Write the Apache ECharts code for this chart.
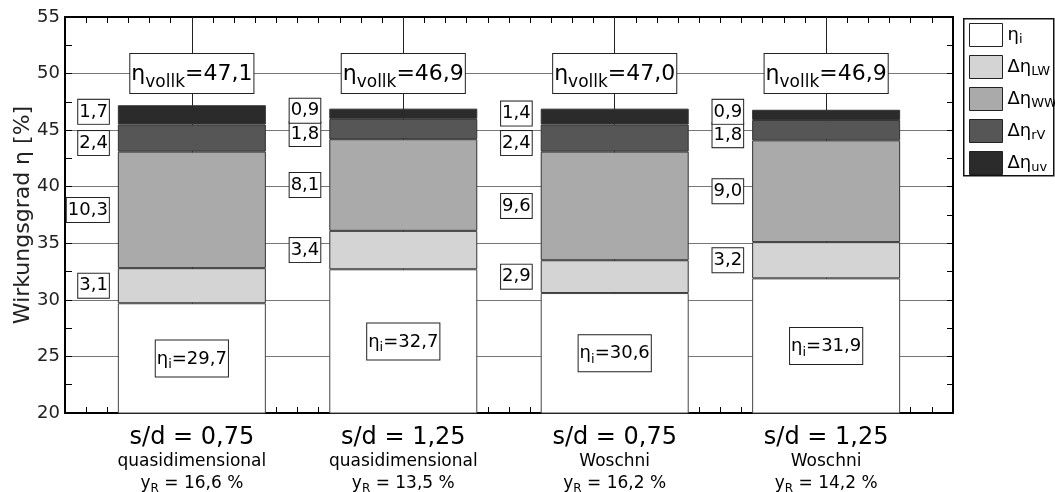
<!DOCTYPE html>
<html>
<head>
<meta charset="utf-8">
<script src="https://cdn.jsdelivr.net/npm/echarts@6/dist/echarts.min.js"></script>
<style>
html, body { margin: 0; padding: 0; background: #fff; }
#chart { width: 1055px; height: 492px; }
</style>
</head>
<body>
<div id="chart"></div>
<script>
// categories
const spacings = ["0,75", "1,25", "0,75", "1,25"]
const models = ["quasidimensional", "quasidimensional", "Woschni", "Woschni"]
const yR = [16.6, 13.5, 16.2, 14.2]

// stacked parts of the efficiency [%]
const etaI = [29.7, 32.7, 30.6, 31.9]
const dLW = [3.1, 3.4, 2.9, 3.2]
const dWW = [10.3, 8.1, 9.6, 9.0]
const dRV = [2.4, 1.8, 2.4, 1.8]
const dUV = [1.7, 0.9, 1.4, 0.9]
const etaVollk = [47.1, 46.9, 47.0, 46.9]

const FONT = "DejaVu Sans"
const VOLLK_Y = 50 // where the eta_vollk boxes sit
const xPos = etaI.map((_, i) => i + 1)
const fmt = v => v.toFixed(1).replace(".", ",")

const boxStyle = {
  fontFamily: FONT,
  color: "#000",
  backgroundColor: "#fff",
  borderColor: "#222",
  borderWidth: 1
}

const legendText = {
  "ηi": "{m|η}{s|i}",
  "ΔηLW": "{m|Δη}{s|LW}",
  "ΔηWW": "{m|Δη}{s|WW}",
  "ΔηrV": "{m|Δη}{s|rV}",
  "Δηuv": "{m|Δη}{s|uv}"
}

// value first, position second: stacking then runs on the value (by index)
const toData = arr => arr.map((v, i) => [v, xPos[i]])

const barBase = {
  type: "bar",
  stack: "eta",
  barWidth: 148,
  xAxisIndex: 0,
  yAxisIndex: 0,
  encode: { x: 1, y: 0 }
}

function deltaSeries(name, data, color, offset) {
  return {
    ...barBase,
    name: name,
    data: toData(data),
    itemStyle: { color: color, borderColor: "#333", borderWidth: 1 },
    label: {
      show: true,
      position: "left",
      distance: 9,
      offset: offset,
      formatter: p => fmt(p.value[0]),
      ...boxStyle,
      fontSize: 18,
      padding: [4, 1, 2, 1]
    }
  }
}

const chart = echarts.init(document.getElementById("chart"))

chart.setOption({
  animation: false,
  grid: { left: 65, right: 102, top: 17, bottom: 79, outerBoundsMode: "none" },
  graphic: [
    {
      type: "rect",
      left: 963,
      top: 18,
      shape: { width: 90, height: 157 },
      style: { fill: "#fff", stroke: "#111", lineWidth: 1.5 },
      z: -1
    },
    {
      // y axis title
      type: "text",
      x: 23,
      y: 215,
      rotation: Math.PI / 2,
      style: {
        text: "Wirkungsgrad η [%]",
        fontFamily: FONT,
        fontSize: 22,
        fill: "#222",
        align: "center",
        verticalAlign: "middle"
      }
    }
  ],
  legend: {
    data: Object.keys(legendText),
    orient: "vertical",
    left: 969,
    top: 23,
    itemWidth: 33,
    itemHeight: 23,
    itemGap: 8,
    padding: 0,
    icon: "rect",
    itemStyle: { borderColor: "#222", borderWidth: 1 },
    formatter: name => legendText[name],
    textStyle: {
      fontFamily: FONT,
      color: "#000",
      rich: {
        m: { fontFamily: FONT, fontSize: 18, color: "#000" },
        s: { fontFamily: FONT, fontSize: 13, color: "#000", padding: [9, 0, 0, 0] }
      }
    }
  },
  xAxis: [
    {
      type: "value",
      position: "bottom",
      min: 0.4,
      max: 4.6,
      interval: 0.1,
      axisLine: { onZero: false, lineStyle: { color: "#000", width: 2 } },
      axisTick: { inside: true, length: 6, lineStyle: { color: "#000" } },
      splitLine: { show: false },
      axisLabel: {
        customValues: xPos,
        margin: 12,
        formatter: v => {
          const i = Math.round(v) - 1
          return `{a|s/d = ${spacings[i]}}\n{b|${models[i]}}\n{c|y}{r|R}{c| = ${fmt(yR[i])} %}`
        },
        rich: {
          a: { fontFamily: FONT, fontSize: 24, lineHeight: 26, color: "#000" },
          b: { fontFamily: FONT, fontSize: 17, lineHeight: 22, color: "#000" },
          c: { fontFamily: FONT, fontSize: 17, lineHeight: 22, color: "#000" },
          r: { fontFamily: FONT, fontSize: 12, lineHeight: 22, color: "#000", padding: [9, 0, 0, 0] }
        }
      }
    },
    {
      type: "value",
      position: "top",
      min: 0.4,
      max: 4.6,
      interval: 0.1,
      axisLine: { onZero: false, lineStyle: { color: "#000", width: 2 } },
      axisTick: { inside: true, length: 6, lineStyle: { color: "#000" } },
      splitLine: { show: false },
      axisLabel: { show: false }
    }
  ],
  yAxis: [
    {
      type: "value",
      min: 20,
      max: 55,
      interval: 5,
      axisLine: { show: true, lineStyle: { color: "#000", width: 2 } },
      axisTick: { show: true, inside: true, length: 7, lineStyle: { color: "#000" } },
      minorTick: { show: true, splitNumber: 2, length: 7, lineStyle: { color: "#000" } },
      axisLabel: { fontFamily: FONT, fontSize: 18, color: "#222", margin: 5 },
      splitLine: { show: true, lineStyle: { color: "#777", width: 1 } }
    },
    {
      type: "value",
      position: "right",
      min: 20,
      max: 55,
      interval: 5,
      axisLine: { show: true, lineStyle: { color: "#000", width: 2 } },
      axisTick: { show: true, inside: true, length: 6, lineStyle: { color: "#000" } },
      minorTick: { show: true, splitNumber: 2, length: 6, lineStyle: { color: "#000" } },
      axisLabel: { show: false },
      splitLine: { show: false }
    }
  ],
  series: [
    {
      ...barBase,
      name: "ηi",
      data: toData(etaI),
      itemStyle: { color: "#fff", borderColor: "#444", borderWidth: 1 },
      label: {
        show: true,
        position: "inside",
        formatter: p => `{m|η}{s|i}{m|=${fmt(p.value[0])}}`,
        ...boxStyle,
        padding: [6, 1, 5, 1],
        rich: {
          m: { fontFamily: FONT, fontSize: 18, color: "#000" },
          s: { fontFamily: FONT, fontSize: 13, color: "#000", padding: [12, 0, 0, 0] }
        }
      }
    },
    deltaSeries("ΔηLW", dLW, "#d4d4d4", [0, 0]),
    deltaSeries("ΔηWW", dWW, "#aaaaaa", [0, 0]),
    deltaSeries("ΔηrV", dRV, "#565656", [0, 5]),
    deltaSeries("Δηuv", dUV, "#2b2b2b", [0, -3]),
    {
      type: "scatter",
      name: "vollk",
      xAxisIndex: 0,
      yAxisIndex: 0,
      symbolSize: 1,
      itemStyle: { color: "rgba(0,0,0,0)", opacity: 1 },
      data: xPos.map(x => [x, VOLLK_Y]),
      z: 5,
      label: {
        show: true,
        position: "inside",
        opacity: 1,
        formatter: p => `{m|η}{s|vollk}{m|=${fmt(etaVollk[p.dataIndex])}}`,
        ...boxStyle,
        padding: [4, 1, 2, 1],
        rich: {
          m: { fontFamily: FONT, fontSize: 22, color: "#000" },
          s: { fontFamily: FONT, fontSize: 17, color: "#000", padding: [16, 0, 0, 0] }
        }
      },
      markLine: {
        silent: true,
        symbol: "none",
        z: 1,
        label: { show: false },
        lineStyle: { color: "#222", width: 1, type: "solid" },
        data: xPos.map(x => ({ xAxis: x }))
      }
    }
  ]
})
</script>
</body>
</html>
